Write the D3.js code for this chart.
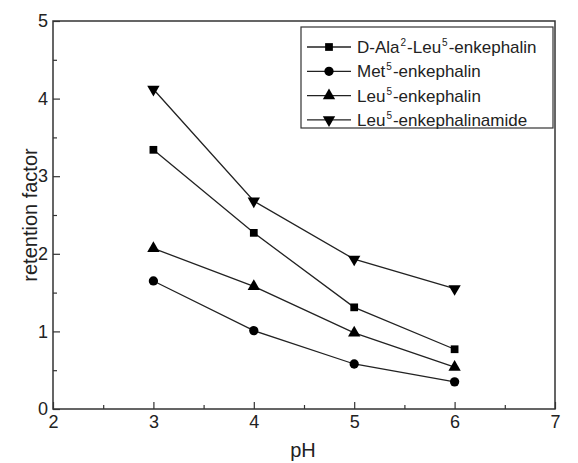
<!DOCTYPE html>
<html>
<head>
<meta charset="utf-8">
<script src="https://cdn.jsdelivr.net/npm/d3@7"></script>
<style>
  html, body { margin: 0; padding: 0; background: #fff; }
  svg text { font-family: "Liberation Sans", Arial, Helvetica, sans-serif; fill: #222; }
</style>
</head>
<body>
<svg id="chart" width="578" height="463"></svg>
<script>
(function () {
  'use strict';

  // ── Data ────────────────────────────────────────────────────────────────────
  var pH = [3, 4, 5, 6];
  var dalaLeu = [3.34, 2.27, 1.31, 0.77];
  var metEnk = [1.65, 1.01, 0.58, 0.35];
  var leuEnk = [2.07, 1.58, 0.98, 0.54];
  var leuEnkAmide = [4.12, 2.68, 1.93, 1.55];

  var xTicks = [2, 3, 4, 5, 6, 7];
  var yTicks = [0, 1, 2, 3, 4, 5];

  var seriesNames = [
    ['D-Ala', '2', '-Leu', '5', '-enkephalin'],
    ['Met', '5', '-enkephalin'],
    ['Leu', '5', '-enkephalin'],
    ['Leu', '5', '-enkephalinamide']
  ];
  var seriesValues = [dalaLeu, metEnk, leuEnk, leuEnkAmide];
  var seriesSymbols = [d3.symbolSquare, d3.symbolCircle, d3.symbolTriangle, 'down'];

  // ── Layout ──────────────────────────────────────────────────────────────────
  var L = 53, R = 555, T = 21, B = 409;
  var svg = d3.select('#chart');

  var x = d3.scaleLinear().domain([xTicks[0], xTicks[xTicks.length - 1]]).range([L, R]);
  var y = d3.scaleLinear().domain([yTicks[0], yTicks[yTicks.length - 1]]).range([B, T]);

  function symbolPath(sym) {
    if (sym === 'down') return d3.symbol(d3.symbolTriangle, 66)();
    if (sym === d3.symbolSquare) return d3.symbol(sym, 60)();
    if (sym === d3.symbolCircle) return d3.symbol(sym, 68)();
    return d3.symbol(sym, 66)();
  }
  function symbolTransform(sym, px, py) {
    return 'translate(' + px + ',' + py + ')' + (sym === 'down' ? ' rotate(180)' : '');
  }

  // Frame
  svg.append('rect')
    .attr('x', L).attr('y', T)
    .attr('width', R - L).attr('height', B - T)
    .attr('fill', 'none')
    .attr('stroke', '#333')
    .attr('stroke-width', 1.5);

  // Axes (ticks pointing inward, minor ticks at halves)
  var xAxis = d3.axisBottom(x)
    .tickValues(d3.range(2, 7.01, 0.5))
    .tickSize(-6)
    .tickFormat(function (d) { return Number.isInteger(d) ? d : ''; });
  var gx = svg.append('g').attr('transform', 'translate(0,' + B + ')').call(xAxis);
  gx.select('.domain').remove();
  gx.selectAll('.tick line')
    .attr('stroke', '#333').attr('stroke-width', 1.2)
    .attr('y2', function (d) { return Number.isInteger(d) ? -7 : -4; });
  gx.selectAll('.tick text')
    .attr('y', 6).attr('dy', '0.71em')
    .style('font-size', '18px')
    .style('font-family', '"Liberation Sans", Arial, sans-serif')
    .attr('fill', '#222');

  var yAxis = d3.axisLeft(y)
    .tickValues(d3.range(0, 5.01, 0.5))
    .tickSize(-6)
    .tickFormat(function (d) { return Number.isInteger(d) ? d : ''; });
  var gy = svg.append('g').attr('transform', 'translate(' + L + ',0)').call(yAxis);
  gy.select('.domain').remove();
  gy.selectAll('.tick line')
    .attr('stroke', '#333').attr('stroke-width', 1.2)
    .attr('x2', function (d) { return Number.isInteger(d) ? 7 : 4; });
  gy.selectAll('.tick text')
    .attr('x', -5)
    .style('font-size', '18px')
    .style('font-family', '"Liberation Sans", Arial, sans-serif')
    .attr('fill', '#222');

  // Axis titles
  svg.append('text')
    .attr('x', (L + R) / 2 - 1).attr('y', 457)
    .attr('text-anchor', 'middle')
    .style('font-size', '20px')
    .text('pH');

  svg.append('text')
    .attr('transform', 'translate(37,' + ((T + B) / 2) + ') rotate(-90)')
    .attr('text-anchor', 'middle')
    .style('font-size', '20px')
    .text('retention factor');

  // Series
  var line = d3.line()
    .x(function (d) { return x(d[0]); })
    .y(function (d) { return y(d[1]); });

  seriesValues.forEach(function (vals, i) {
    var pts = pH.map(function (p, j) { return [p, vals[j]]; });
    svg.append('path')
      .datum(pts)
      .attr('d', line)
      .attr('fill', 'none')
      .attr('stroke', '#222')
      .attr('stroke-width', 1.3);
    svg.append('g').selectAll('path')
      .data(pts)
      .join('path')
      .attr('d', symbolPath(seriesSymbols[i]))
      .attr('transform', function (d) {
        return symbolTransform(seriesSymbols[i], x(d[0]), y(d[1]));
      })
      .attr('fill', '#000');
  });

  // Legend
  var lgX = 301, lgY = 27, lgW = 252, lgH = 101, rowH = 24.3;
  svg.append('rect')
    .attr('x', lgX).attr('y', lgY)
    .attr('width', lgW).attr('height', lgH)
    .attr('fill', '#fff')
    .attr('stroke', '#333')
    .attr('stroke-width', 1.2);

  seriesNames.forEach(function (parts, i) {
    var ry = lgY + 20 + i * rowH;
    svg.append('line')
      .attr('x1', lgX + 6).attr('x2', lgX + 50)
      .attr('y1', ry).attr('y2', ry)
      .attr('stroke', '#222').attr('stroke-width', 1.3);
    svg.append('path')
      .attr('d', symbolPath(seriesSymbols[i]))
      .attr('transform', symbolTransform(seriesSymbols[i], lgX + 28, ry))
      .attr('fill', '#000');
    var t = svg.append('text')
      .attr('x', lgX + 56).attr('y', ry + 6)
      .style('font-size', '17px');
    parts.forEach(function (p, k) {
      var isSup = k % 2 === 1;
      t.append('tspan')
        .attr('dy', isSup ? -7 : (k > 0 ? 7 : 0))
        .attr('dx', isSup ? 1 : (k > 0 ? 1 : 0))
        .style('font-size', isSup ? '10px' : '17px')
        .text(p);
    });
  });
})();
</script>
</body>
</html>
